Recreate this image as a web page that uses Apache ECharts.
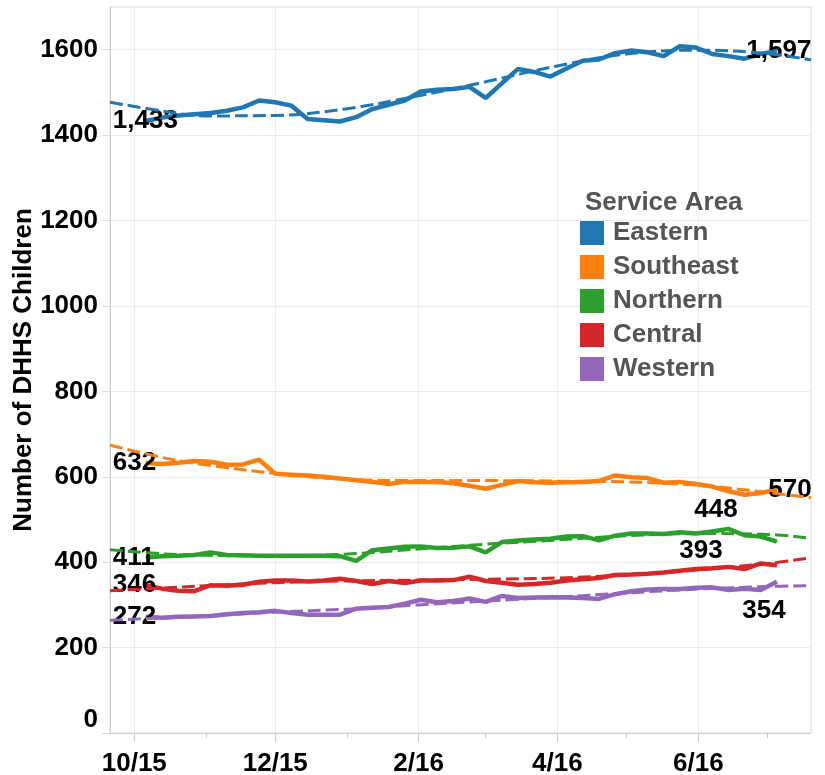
<!DOCTYPE html>
<html>
<head>
<meta charset="utf-8">
<title>DHHS Children by Service Area</title>
<script src="https://cdn.jsdelivr.net/npm/echarts@6/dist/echarts.min.js"></script>
<style>
  html, body { margin: 0; padding: 0; background: #fff; }
  #chart { width: 825px; height: 775px; }
</style>
</head>
<body>
<div id="chart"></div>
<script>
// weekly counts
const weeks = [
  '2015-10-06', '2015-10-13', '2015-10-20', '2015-10-27', '2015-11-03', '2015-11-10', '2015-11-17', '2015-11-24',
  '2015-12-01', '2015-12-08', '2015-12-15', '2015-12-22', '2015-12-29', '2016-01-05', '2016-01-12', '2016-01-19',
  '2016-01-26', '2016-02-02', '2016-02-09', '2016-02-16', '2016-02-23', '2016-03-01', '2016-03-08', '2016-03-15',
  '2016-03-22', '2016-03-29', '2016-04-05', '2016-04-12', '2016-04-19', '2016-04-26', '2016-05-03', '2016-05-10',
  '2016-05-17', '2016-05-24', '2016-05-31', '2016-06-07', '2016-06-14', '2016-06-21', '2016-06-28', '2016-07-05'
]
const eastern = [
  1433, 1441, 1446, 1449, 1452, 1457, 1465, 1481, 1477, 1469, 1438, 1435, 1432, 1442, 1461, 1471,
  1481, 1502, 1506, 1508, 1513, 1487, 1521, 1555, 1548, 1537, 1556, 1574, 1577, 1592, 1598, 1594,
  1585, 1608, 1605, 1590, 1585, 1579, 1590, 1597
]
const southeast = [
  632, 630, 633, 637, 635, 628, 629, 640, 607, 605, 603, 600, 596, 592, 588, 583,
  588, 588, 588, 585, 579, 572, 581, 590, 587, 586, 587, 588, 590, 603, 599, 597,
  586, 588, 583, 577, 566, 558, 562, 570
]
const northern = [
  411, 414, 415, 417, 423, 417, 416, 415, 415, 415, 415, 415, 414, 403, 428, 432,
  436, 437, 433, 434, 437, 423, 447, 451, 453, 455, 460, 461, 451, 462, 467, 467,
  466, 470, 467, 472, 478, 463, 460, 448
]
const central = [
  346, 338, 333, 332, 346, 345, 347, 354, 357, 357, 355, 357, 361, 356, 349, 356,
  351, 357, 357, 358, 366, 356, 352, 347, 349, 352, 357, 360, 363, 370, 371, 373,
  376, 380, 384, 386, 389, 384, 397, 393
]
const western = [
  272, 270, 272, 273, 274, 278, 281, 283, 286, 281, 277, 277, 277, 291, 293, 295,
  303, 312, 306, 309, 315, 307, 321, 316, 317, 318, 317, 316, 314, 325, 332, 336,
  337, 337, 340, 341, 335, 338, 335, 354
]

const trendDates = [
  '2015-09-20T12:00:00Z', '2015-10-15', '2015-11-01', '2015-12-01', '2016-01-01', '2016-02-01',
  '2016-03-01', '2016-04-01', '2016-05-01', '2016-06-01', '2016-07-01', '2016-07-19T18:00:00Z'
]
const easternTrend = [1477, 1455, 1445, 1446, 1462, 1492, 1525, 1562, 1590, 1599, 1591, 1576]
const southeastTrend = [674, 643, 628, 608, 594, 591, 591, 590, 588, 580, 563, 551]
const northernTrend = [429, 419, 416, 415, 419, 431, 442, 452, 462, 467, 465, 456]
const centralTrend = [333, 340, 345, 352, 356, 358, 360, 363, 370, 382, 397, 410]
const westernTrend = [264, 270, 274, 283, 290, 300, 309, 318, 328, 337, 343, 345]

const areaNames = ['Eastern', 'Southeast', 'Northern', 'Central', 'Western']
const labelledMonths = ['2015-10-01', '2015-12-01', '2016-02-01', '2016-04-01', '2016-06-01']
const otherMonths = ['2015-11-01', '2016-01-01', '2016-03-01', '2016-05-01', '2016-07-01']
const yTicks = [0, 200, 400, 600, 800, 1000, 1200, 1400, 1600]

const values = [eastern, southeast, northern, central, western]
const trends = [easternTrend, southeastTrend, northernTrend, centralTrend, westernTrend]
const colors = ['#1f77b4', '#ff7f0e', '#2ca02c', '#d62728', '#9467bd']
// where the end label sits relative to the last point
const endOffsets = [[2, 0], [13, 0], [-61, -32], [-76, -14], [-13, 29]]

const FONT = '"Liberation Sans", Arial, sans-serif'
const xMin = Date.parse(trendDates[0])
const xMax = Date.parse(trendDates[trendDates.length - 1])

const fmtNum = v => String(v).replace(/\B(?=(\d{3})+(?!\d))/g, ',')

function pointLabel (offset, align) {
  return {
    show: true,
    position: 'inside',
    align: align,
    verticalAlign: 'middle',
    offset: offset,
    color: '#000',
    fontFamily: FONT,
    fontWeight: 'bold',
    fontSize: 26,
    formatter: p => fmtNum(p.value[1])
  }
}

function lineData (vals, endOffset) {
  return vals.map((v, i) => {
    const item = { value: [Date.parse(weeks[i]), v] }
    if (i === 0 || i === vals.length - 1) {
      item.symbol = 'circle'
      item.symbolSize = 1
      item.label = i === 0 ? pointLabel([-33, 0], 'left') : pointLabel(endOffset, 'center')
    }
    return item
  })
}

const series = []
areaNames.forEach((name, k) => {
  series.push({
    name: name,
    type: 'line',
    xAxisIndex: 0,
    symbol: 'none',
    showSymbol: true,
    color: colors[k],
    lineStyle: { width: 4.5, color: colors[k] },
    data: lineData(values[k], endOffsets[k]),
    z: 3
  })
})
areaNames.forEach((name, k) => {
  series.push({
    name: name + ' trend',
    type: 'line',
    xAxisIndex: 0,
    symbol: 'none',
    smooth: 0.4,
    lineStyle: { width: 3, color: colors[k], type: [13, 5] },
    data: trendDates.map((d, i) => [Date.parse(d), trends[k][i]]),
    z: 4
  })
})

const monthLabel = v => {
  const d = new Date(v)
  return (d.getUTCMonth() + 1) + '/' + String(d.getUTCFullYear()).slice(2)
}

const chart = echarts.init(document.getElementById('chart'))
chart.setOption({
  animation: false,
  backgroundColor: '#fff',
  title: {
    text: 'Service Area',
    left: 585,
    top: 190,
    padding: 0,
    textStyle: { fontFamily: FONT, fontSize: 26, fontWeight: 'bold', color: '#555' }
  },
  legend: {
    data: areaNames,
    orient: 'vertical',
    left: 580,
    top: 220,
    padding: 0,
    icon: 'rect',
    itemWidth: 24,
    itemHeight: 24,
    itemGap: 8,
    textStyle: { fontFamily: FONT, fontSize: 26, fontWeight: 'bold', color: '#555', lineHeight: 26, padding: [0, 0, 0, 4] }
  },
  grid: {
    left: 110,
    right: 14,
    top: 7,
    bottom: 42,
    outerBoundsMode: 'none',
    show: true,
    borderColor: '#dcdcdc',
    borderWidth: 1
  },
  xAxis: [
    {
      type: 'value',
      min: xMin,
      max: xMax,
      axisLine: { show: true, lineStyle: { color: '#cfcfcf', width: 1 } },
      axisTick: {
        show: true,
        length: 9,
        customValues: labelledMonths.map(d => Date.parse(d)),
        lineStyle: { color: '#cfcfcf' }
      },
      axisLabel: {
        customValues: labelledMonths.map(d => Date.parse(d)),
        formatter: monthLabel,
        margin: 14,
        lineHeight: 34,
        color: '#000',
        fontFamily: FONT,
        fontWeight: 'bold',
        fontSize: 26
      },
      splitLine: { show: true, lineStyle: { color: '#ececec', width: 1 } }
    },
    {
      type: 'value',
      position: 'bottom',
      min: xMin,
      max: xMax,
      axisLine: { show: false },
      axisTick: {
        show: true,
        length: 5,
        customValues: otherMonths.map(d => Date.parse(d)),
        lineStyle: { color: '#cfcfcf' }
      },
      axisLabel: { show: false },
      splitLine: { show: false }
    }
  ],
  yAxis: {
    type: 'value',
    min: 0,
    max: 1700,
    interval: 200,
    name: 'Number of DHHS Children',
    nameLocation: 'middle',
    nameGap: 73,
    nameMoveOverlap: false,
    nameTextStyle: { fontFamily: FONT, fontSize: 26, fontWeight: 'bold', color: '#000' },
    axisLine: { show: true, lineStyle: { color: '#cfcfcf', width: 1 } },
    axisTick: {
      show: true,
      length: 8,
      customValues: yTicks,
      lineStyle: { color: '#dcdcdc' }
    },
    axisLabel: {
      customValues: yTicks,
      margin: 12,
      color: '#000',
      fontFamily: FONT,
      fontWeight: 'bold',
      fontSize: 26,
      // the bottom label sits a little above its gridline
      formatter: v => (v === 0 ? '{z|0}' : String(v)),
      rich: { z: { fontFamily: FONT, fontWeight: 'bold', fontSize: 26, color: '#000', padding: [0, 0, 26, 0] } }
    },
    splitLine: { show: true, lineStyle: { color: '#ececec', width: 1 } }
  },
  series: series
})
</script>
</body>
</html>
